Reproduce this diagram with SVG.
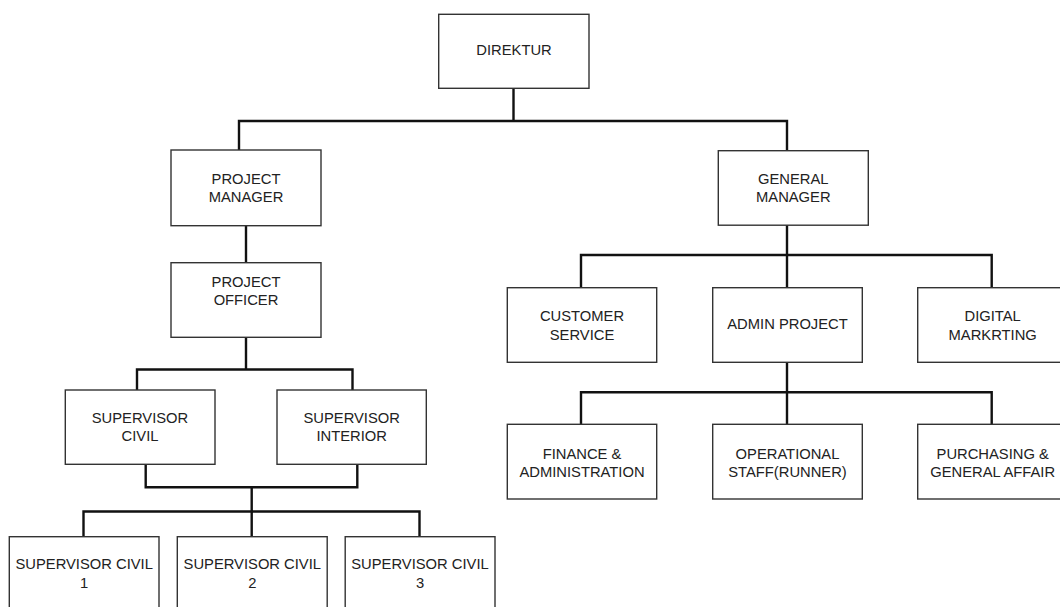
<svg xmlns="http://www.w3.org/2000/svg" width="1060" height="607" viewBox="0 0 1060 607">
<style>
.box{fill:#fff;stroke:#333;stroke-width:1.4}
.lbl{font-family:"Liberation Sans",Arial,sans-serif;font-size:14.75px;fill:#222;text-anchor:middle}
.con{fill:none;stroke:#111;stroke-width:2.4;stroke-linejoin:miter;stroke-linecap:square}
</style>
<rect width="1060" height="607" fill="#fff"/>
<g id="connectors">
<path class="con" d="M513.5,88 V121 H239 V150 M513.5,121 H787 V150"/>
<path class="con" d="M246,226 V262.5"/>
<path class="con" d="M246,337 V369.5 H137 V390 M246,369.5 H352.5 V390"/>
<path class="con" d="M145.7,464 V487.3 H357.3 V464 M251.7,487.3 V511.5 M83.5,536.5 V511.5 H419.5 V536.5 M251.7,511.5 V536.5"/>
<path class="con" d="M787,225 V255 M581,288 V255 H991.7 V288 M787,255 V288"/>
<path class="con" d="M787,362 V392.3 M581,424.3 V392.3 H991.7 V424.3 M787,392.3 V424.3"/>
</g>
<g id="direktur"><rect class="box" x="438.7" y="14.3" width="150.3" height="74"/><text class="lbl" x="514" y="55.3">DIREKTUR</text></g>
<g id="project-manager"><rect class="box" x="171" y="150" width="150" height="75.7"/><text class="lbl" x="246" y="183.5">PROJECT</text><text class="lbl" x="246" y="202">MANAGER</text></g>
<g id="project-officer"><rect class="box" x="171" y="262.7" width="150" height="74.6"/><text class="lbl" x="246" y="287">PROJECT</text><text class="lbl" x="246" y="304.8">OFFICER</text></g>
<g id="supervisor-civil"><rect class="box" x="65.3" y="390" width="149.7" height="74.3"/><text class="lbl" x="140" y="422.5">SUPERVISOR</text><text class="lbl" x="140" y="441.2">CIVIL</text></g>
<g id="supervisor-interior"><rect class="box" x="277" y="390" width="149.3" height="74.3"/><text class="lbl" x="351.7" y="422.5">SUPERVISOR</text><text class="lbl" x="351.7" y="441.2">INTERIOR</text></g>
<g id="supervisor-civil-1"><rect class="box" x="9.3" y="536.7" width="149.7" height="75"/><text class="lbl" x="84.2" y="569">SUPERVISOR CIVIL</text><text class="lbl" x="84.2" y="588">1</text></g>
<g id="supervisor-civil-2"><rect class="box" x="177.3" y="536.7" width="149.9" height="75"/><text class="lbl" x="252.3" y="569">SUPERVISOR CIVIL</text><text class="lbl" x="252.3" y="588">2</text></g>
<g id="supervisor-civil-3"><rect class="box" x="345.2" y="536.7" width="149.8" height="75"/><text class="lbl" x="420" y="569">SUPERVISOR CIVIL</text><text class="lbl" x="420" y="588">3</text></g>
<g id="general-manager"><rect class="box" x="718.3" y="150.7" width="150" height="74.5"/><text class="lbl" x="793.3" y="183.5">GENERAL</text><text class="lbl" x="793.3" y="202">MANAGER</text></g>
<g id="customer-service"><rect class="box" x="507.3" y="287.7" width="149.4" height="74.6"/><text class="lbl" x="582" y="321.2">CUSTOMER</text><text class="lbl" x="582" y="339.6">SERVICE</text></g>
<g id="admin-project"><rect class="box" x="712.7" y="287.7" width="149.6" height="74.6"/><text class="lbl" x="787.5" y="329.4">ADMIN PROJECT</text></g>
<g id="digital-marketing"><rect class="box" x="917.7" y="287.7" width="150" height="74.6"/><text class="lbl" x="992.7" y="321.2">DIGITAL</text><text class="lbl" x="992.7" y="339.6">MARKRTING</text></g>
<g id="finance"><rect class="box" x="507.3" y="424.3" width="149.4" height="74.7"/><text class="lbl" x="582" y="458.5">FINANCE &amp;</text><text class="lbl" x="582" y="476.6">ADMINISTRATION</text></g>
<g id="operational"><rect class="box" x="712.7" y="424.3" width="149.6" height="74.7"/><text class="lbl" x="787.5" y="458.5">OPERATIONAL</text><text class="lbl" x="787.5" y="476.6">STAFF(RUNNER)</text></g>
<g id="purchasing"><rect class="box" x="917.7" y="424.3" width="150" height="74.7"/><text class="lbl" x="992.7" y="458.5">PURCHASING &amp;</text><text class="lbl" x="992.7" y="476.6">GENERAL AFFAIR</text></g>
</svg>
